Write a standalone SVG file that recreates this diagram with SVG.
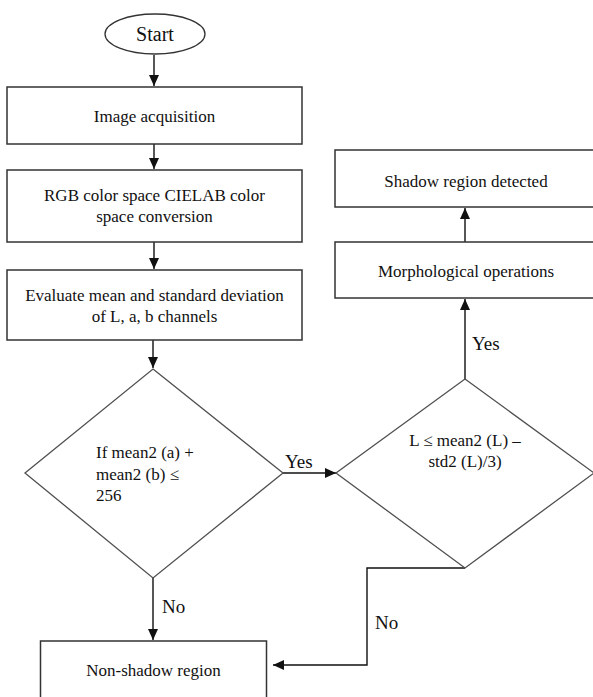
<svg xmlns="http://www.w3.org/2000/svg" width="593" height="697" viewBox="0 0 593 697">
<style>
text{font-family:"Liberation Serif","Times New Roman",serif;fill:#111;font-size:17px}
.c{text-anchor:middle}
.lbl{font-size:19px}
.box{fill:#fff;stroke:#333;stroke-width:1.5}
.dia{fill:#fff;stroke:#505050;stroke-width:1.3}
.conn{fill:none;stroke:#111;stroke-width:1.4}
</style>
<defs>
<marker id="ah" markerUnits="userSpaceOnUse" markerWidth="12" markerHeight="10" refX="11" refY="5" orient="auto">
<path d="M0,0 L11,5 L0,10 z" fill="#111"/>
</marker>
</defs>
<rect width="593" height="697" fill="#fff"/>
<g id="connectors">
<line class="conn" x1="154" y1="55" x2="154" y2="86" marker-end="url(#ah)"/>
<line class="conn" x1="154" y1="144" x2="154" y2="169" marker-end="url(#ah)"/>
<line class="conn" x1="154" y1="242" x2="154" y2="269" marker-end="url(#ah)"/>
<line class="conn" x1="153" y1="340" x2="153" y2="368" marker-end="url(#ah)"/>
<line class="conn" x1="283" y1="473" x2="336" y2="473" marker-end="url(#ah)"/>
<line class="conn" x1="465" y1="379" x2="465" y2="299" marker-end="url(#ah)"/>
<line class="conn" x1="465" y1="242" x2="465" y2="208" marker-end="url(#ah)"/>
<line class="conn" x1="153" y1="578" x2="153" y2="640" marker-end="url(#ah)"/>
<polyline class="conn" points="465,568 367,568 367,665 273,665" marker-end="url(#ah)"/>
<text class="lbl" x="285" y="468">Yes</text>
<text class="lbl" x="472" y="350">Yes</text>
<text class="lbl" x="162" y="613">No</text>
<text class="lbl" x="375" y="629">No</text>
</g>
<g id="start">
<ellipse cx="155" cy="34" rx="50" ry="20" fill="#fff" stroke="#333" stroke-width="1.3"/>
<text class="c" x="155" y="41" style="font-size:20px">Start</text>
</g>
<g id="acquisition">
<rect class="box" x="7" y="87" width="295" height="57"/>
<text class="c" x="154.5" y="122">Image acquisition</text>
</g>
<g id="conversion">
<rect class="box" x="7" y="170" width="295" height="72"/>
<text class="c" x="154.5" y="201">RGB color space CIELAB color</text>
<text class="c" x="154.5" y="222">space conversion</text>
</g>
<g id="evaluate">
<rect class="box" x="7" y="270" width="295" height="70"/>
<text class="c" x="154.5" y="301">Evaluate mean and standard deviation</text>
<text class="c" x="154.5" y="322">of L, a, b channels</text>
</g>
<g id="decision1">
<polygon class="dia" points="153,369 283,473 153,578 25,473"/>
<text x="96" y="458">If mean2 (a) +</text>
<text x="96" y="480">mean2 (b) ≤</text>
<text x="96" y="501">256</text>
</g>
<g id="decision2">
<polygon class="dia" points="465,379 594,473 465,568 336,473"/>
<text class="c" x="465" y="446">L ≤ mean2 (L) –</text>
<text class="c" x="465" y="467">std2 (L)/3)</text>
</g>
<g id="morphological">
<rect class="box" x="335" y="242" width="265" height="56"/>
<text class="c" x="466" y="277">Morphological operations</text>
</g>
<g id="detected">
<rect class="box" x="335" y="150" width="265" height="57"/>
<text class="c" x="466" y="187">Shadow region detected</text>
</g>
<g id="nonshadow">
<rect class="box" x="40.5" y="641" width="226" height="70"/>
<text class="c" x="153.5" y="676">Non-shadow region</text>
</g>
</svg>
